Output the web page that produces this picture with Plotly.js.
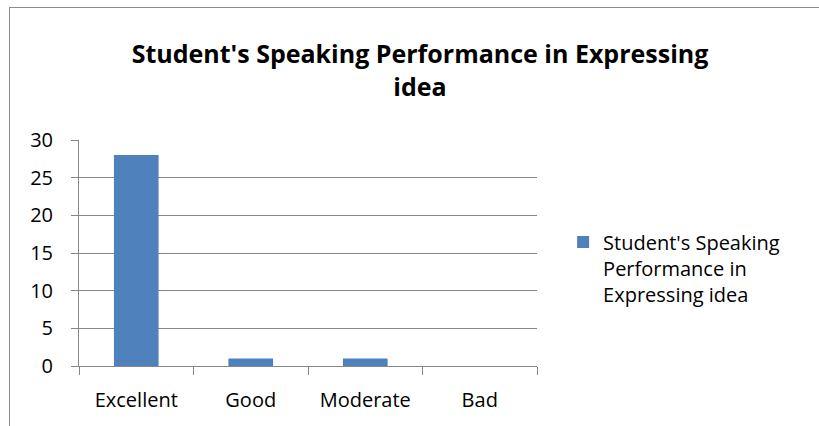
<!DOCTYPE html>
<html>
<head>
<meta charset="utf-8">
<script src="https://cdn.plot.ly/plotly-3.0.1.min.js"></script>
<style>
html,body{margin:0;padding:0;background:#fff;}
#frame{position:absolute;left:9px;top:7px;width:830px;height:440px;border-left:1px solid #8c8c8c;border-top:1px solid #8c8c8c;}
#chart{position:absolute;left:0;top:0;width:819px;height:426px;}
</style>
</head>
<body>
<div id="frame"></div>
<div id="chart"></div>
<script>
const categories = ["Excellent", "Good", "Moderate", "Bad"];
const values = [28, 1, 1, 0];
const seriesName = "Student's Speaking<br>Performance in<br>Expressing idea";
const chartTitle = "Student's Speaking Performance in Expressing<br>idea";
const yTicks = [0, 5, 10, 15, 20, 25, 30];

const FONT = "Open Sans, Noto Sans, sans-serif";

const trace = {
  type: "bar",
  x: categories,
  y: values,
  name: seriesName,
  marker: {color: "#4F81BD"},
  width: 0.39,
  showlegend: true
};

const layout = {
  width: 819,
  height: 426,
  margin: {l: 79, r: 282, t: 140, b: 60},
  paper_bgcolor: "rgba(0,0,0,0)",
  plot_bgcolor: "rgba(0,0,0,0)",
  font: {family: FONT, size: 20, color: "#000"},
  title: {
    text: chartTitle,
    font: {family: FONT, size: 25, color: "#000", weight: "bold"},
    x: 420/819, xanchor: "center",
    y: 0.852, yanchor: "middle"
  },
  showlegend: true,
  legend: {
    x: 1.057, xanchor: "left",
    y: 0.635, yanchor: "top",
    valign: "top",
    font: {family: FONT, size: 20, color: "#000"},
    itemwidth: 30,
    bgcolor: "rgba(0,0,0,0)"
  },
  xaxis: {
    type: "category",
    tickson: "boundaries",
    ticks: "outside",
    ticklen: 8,
    tickcolor: "#868686",
    ticklabelstandoff: 16,
    showline: true,
    linecolor: "#868686",
    linewidth: 1,
    showgrid: false,
    tickfont: {family: FONT, size: 20, color: "#000"},
    fixedrange: true
  },
  yaxis: {
    range: [0, 30],
    tickvals: yTicks,
    ticks: "outside",
    ticklen: 7,
    tickcolor: "#868686",
    ticklabelstandoff: 14,
    showline: true,
    linecolor: "#868686",
    linewidth: 1,
    showgrid: true,
    gridcolor: "#868686",
    gridwidth: 1,
    zeroline: false,
    tickfont: {family: FONT, size: 20, color: "#000"},
    fixedrange: true
  }
};

Plotly.newPlot("chart", [trace], layout, {displayModeBar: false, staticPlot: true});
</script>
</body>
</html>
